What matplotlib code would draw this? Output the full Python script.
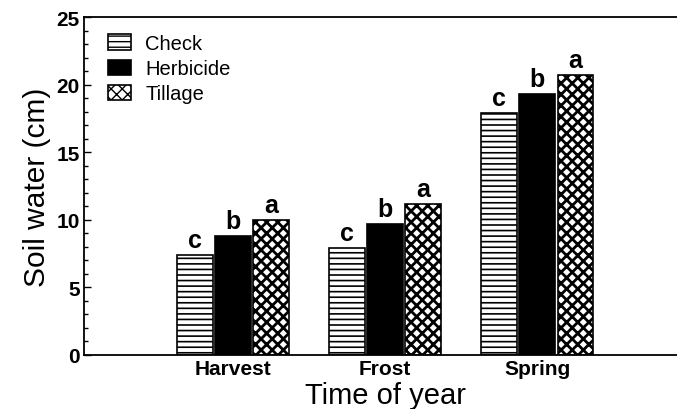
import matplotlib
matplotlib.use("Agg")
import matplotlib.pyplot as plt
import numpy as np

plt.rcParams['font.family'] = ['Liberation Sans', 'DejaVu Sans']

categories = ["Harvest", "Frost", "Spring"]
series_names = ["Check", "Herbicide", "Tillage"]
check = [7.4, 7.9, 17.9]
herbicide = [8.8, 9.7, 19.3]
tillage = [10.0, 11.2, 20.7]
letters_check = ["c", "c", "c"]
letters_herbicide = ["b", "b", "b"]
letters_tillage = ["a", "a", "a"]

fig = plt.figure(figsize=(6.77, 4.10), dpi=100)
ax = fig.add_axes([0.124, 0.132, 0.89, 0.824])

x = np.arange(len(categories))
w = 0.235
offs = [-0.25, 0.0, 0.25]
styles = [
    dict(facecolor='white', edgecolor='black', hatch='---'),
    dict(facecolor='black', edgecolor='black'),
    dict(facecolor='white', edgecolor='black', hatch='xxx'),
]
hatch_lw = [1.2, 1.0, 2.0]
data = [check, herbicide, tillage]
letters = [letters_check, letters_herbicide, letters_tillage]
handles = []
for vals, off, st, name, lets, hlw in zip(data, offs, styles, series_names, letters, hatch_lw):
    with plt.rc_context({'hatch.linewidth': hlw}):
        b = ax.bar(x + off, vals, w, linewidth=1.2, label=name, **st)
    for p in b.patches:
        if hasattr(p, 'set_hatch_linewidth'):
            p.set_hatch_linewidth(hlw)
    handles.append(b)
    for xi, v, l in zip(x + off, vals, lets):
        ax.text(xi, v + 0.2, l, ha='center', va='bottom', fontsize=18, fontweight='bold')

ax.set_xlim(-0.98, 2.98)
ax.set_ylim(0, 25)
ax.set_yticks([0, 5, 10, 15, 20, 25])
ax.set_yticks(np.arange(0, 26, 1), minor=True)
ax.tick_params(axis='y', which='major', direction='in', length=5, width=1, labelsize=15, pad=3)
ax.tick_params(axis='y', which='minor', direction='in', length=3, width=1)
ax.set_xticks(x)
ax.set_xticklabels(categories)
ax.tick_params(axis='x', length=0, labelsize=15, pad=3)
for lab in ax.get_yticklabels() + ax.get_xticklabels():
    lab.set_fontweight('bold')
ax.spines['right'].set_visible(False)
for s in ['left', 'bottom', 'top']:
    ax.spines[s].set_linewidth(1.3)

ax.set_ylabel("Soil water (cm)", fontsize=21.5, labelpad=4)
ax.set_xlabel("Time of year", fontsize=21, labelpad=2)

leg = ax.legend(handles=handles, loc='upper left', bbox_to_anchor=(0.02, 0.985), frameon=False,
                fontsize=14.5, handlelength=1.15, handleheight=0.8, handletextpad=0.7, labelspacing=0.3,
                borderaxespad=0.2)

fig.savefig("out.png", dpi=100)
